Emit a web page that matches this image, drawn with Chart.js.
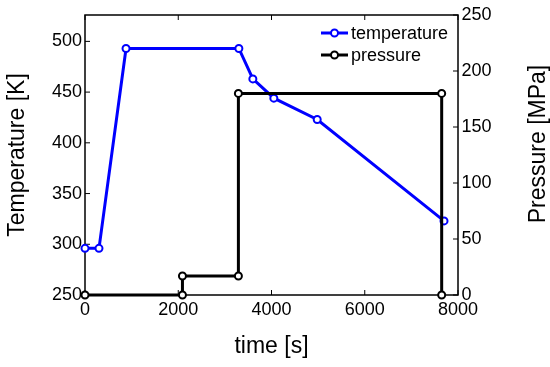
<!DOCTYPE html>
<html>
<head>
<meta charset="utf-8">
<script src="https://cdn.jsdelivr.net/npm/chart.js@4"></script>
<style>
html, body { margin: 0; padding: 0; background: #fff; }
</style>
</head>
<body>
<canvas id="chart" width="550" height="367"></canvas>
<script>
const tempTime = [0, 300, 880, 3300, 3600, 4050, 4980, 7700]
const tempValues = [296, 296, 493, 493, 463, 444, 423, 323]
const pressTime = [0, 2090, 2090, 3290, 3290, 7650, 7650]
const pressValues = [0, 0, 17, 17, 180, 180, 0]
const timeTicks = [0, 2000, 4000, 6000, 8000]
const tempTicks = [250, 300, 350, 400, 450, 500]
const pressTicks = [0, 50, 100, 150, 200, 250]

const FONT = "'Liberation Sans', Arial, Helvetica, sans-serif"
const BLUE = "rgb(0, 0, 255)"
const BLACK = "rgb(0, 0, 0)"

const points = (xs, ys) => xs.map((x, i) => ({ x, y: ys[i] }))
const fixTicks = list => scale => { scale.ticks = list.map(value => ({ value })) }
const plain = value => String(value)

// box around the plot with inward tick marks, matlab style
const framePlugin = {
	id: "frame",
	beforeDatasetsDraw(chart) {
		const { ctx, chartArea: a, scales } = chart
		const len = 5
		ctx.save()
		ctx.strokeStyle = BLACK
		ctx.lineWidth = 1.5
		ctx.strokeRect(a.left, a.top, a.right - a.left, a.bottom - a.top)
		ctx.lineWidth = 1
		ctx.beginPath()
		timeTicks.forEach(v => {
			const x = scales.x.getPixelForValue(v)
			ctx.moveTo(x, a.bottom); ctx.lineTo(x, a.bottom - len)
			ctx.moveTo(x, a.top); ctx.lineTo(x, a.top + len)
		})
		tempTicks.forEach(v => {
			const y = scales.y.getPixelForValue(v)
			ctx.moveTo(a.left, y); ctx.lineTo(a.left + len, y)
		})
		pressTicks.forEach(v => {
			const y = scales.y1.getPixelForValue(v)
			ctx.moveTo(a.right, y); ctx.lineTo(a.right - len, y)
		})
		ctx.stroke()
		ctx.restore()
	},
	afterDraw(chart) {
		const { ctx } = chart
		ctx.save()
		// right axis title reads bottom to top
		ctx.font = "23px " + FONT
		ctx.fillStyle = BLACK
		ctx.textAlign = "center"
		ctx.textBaseline = "middle"
		ctx.translate(539, 144)
		ctx.rotate(-Math.PI / 2)
		ctx.fillText("Pressure [MPa]", 0, 0)
		ctx.restore()

		// legend in the top right corner
		ctx.save()
		ctx.font = "18px " + FONT
		ctx.textBaseline = "middle"
		chart.data.datasets.slice().sort((a, b) => b.order - a.order).forEach((ds, i) => {
			const y = 33 + i * 22
			ctx.strokeStyle = ds.borderColor
			ctx.lineWidth = 3
			ctx.beginPath()
			ctx.moveTo(321, y); ctx.lineTo(348, y)
			ctx.stroke()
			ctx.beginPath()
			ctx.arc(334.5, y, 3.5, 0, Math.PI * 2)
			ctx.fillStyle = "#fff"
			ctx.fill()
			ctx.lineWidth = 2
			ctx.stroke()
			ctx.fillStyle = BLACK
			ctx.fillText(ds.label, 351, y + 1)
		})
		ctx.restore()
	}
}

const tickFont = { family: FONT, size: 18 }
const titleFont = { family: FONT, size: 23, lineHeight: 1 }

new Chart(document.getElementById("chart"), {
	type: "line",
	data: {
		datasets: [{
			label: "temperature",
			data: points(tempTime, tempValues),
			yAxisID: "y",
			borderColor: BLUE,
			backgroundColor: "#fff",
			borderWidth: 3,
			pointRadius: 3.5,
			pointBorderWidth: 2,
			pointBackgroundColor: "#fff",
			pointBorderColor: BLUE,
			tension: 0,
			clip: false,
			order: 2
		}, {
			label: "pressure",
			data: points(pressTime, pressValues),
			yAxisID: "y1",
			borderColor: BLACK,
			backgroundColor: "#fff",
			borderWidth: 3,
			pointRadius: 3.5,
			pointBorderWidth: 2,
			pointBackgroundColor: "#fff",
			pointBorderColor: BLACK,
			tension: 0,
			clip: false,
			order: 1
		}]
	},
	options: {
		responsive: false,
		animation: false,
		devicePixelRatio: 1,
		layout: { padding: { top: 15, left: 0, right: 0, bottom: 0 } },
		plugins: {
			legend: { display: false },
			tooltip: { enabled: false }
		},
		scales: {
			x: {
				type: "linear",
				position: "bottom",
				min: 0,
				max: 8000,
				afterBuildTicks: fixTicks(timeTicks),
				afterFit: s => { s.height = 72 },
				grid: { display: false, drawTicks: false },
				border: { display: false },
				ticks: { font: tickFont, color: BLACK, padding: 4, maxRotation: 0, autoSkip: false, callback: plain },
				title: { display: true, text: "time [s]", font: titleFont, color: BLACK, padding: { top: 0, bottom: 9 } }
			},
			y: {
				type: "linear",
				position: "left",
				min: 250,
				max: 526,
				afterBuildTicks: fixTicks(tempTicks),
				afterFit: s => { s.width = 85 },
				grid: { display: false, drawTicks: false },
				border: { display: false },
				ticks: { font: tickFont, color: BLACK, padding: 3, callback: plain },
				title: { display: true, text: "Temperature [K]", font: titleFont, color: BLACK, padding: { top: 6.5, bottom: 0 } }
			},
			y1: {
				type: "linear",
				position: "right",
				min: 0,
				max: 250,
				afterBuildTicks: fixTicks(pressTicks),
				afterFit: s => { s.width = 92 },
				grid: { display: false, drawTicks: false },
				border: { display: false },
				ticks: { font: tickFont, color: BLACK, padding: 3.5, callback: plain }
			}
		}
	},
	plugins: [framePlugin]
})
</script>
</body>
</html>
